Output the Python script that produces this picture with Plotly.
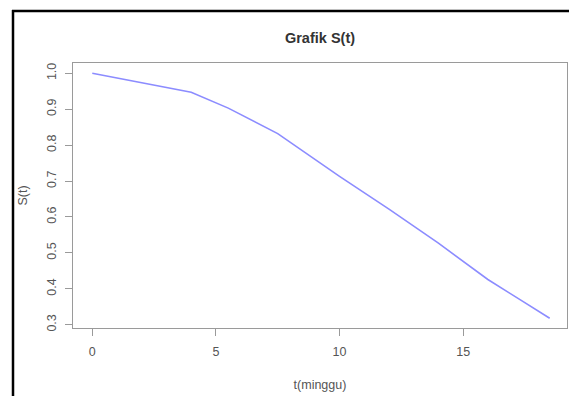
import plotly.graph_objects as go

t_minggu = [0, 4, 5.5, 7.5, 10, 12, 14, 16, 17.3, 18.5]
s_t = [1.0, 0.947, 0.903, 0.832, 0.713, 0.622, 0.527, 0.426, 0.37, 0.318]
x_ticks = [0, 5, 10, 15]
y_ticks = [0.3, 0.4, 0.5, 0.6, 0.7, 0.8, 0.9, 1.0]

W, H = 569, 396
L, R, T, B = 73, 2, 63, 68
pw, ph = W - L - R, H - T - B

def px(x):
    return (x - L) / pw

def py(y):
    return (H - B - y) / ph

FONT = "Liberation Sans, Arial"
fig = go.Figure()
fig.add_trace(go.Scatter(x=t_minggu, y=s_t, mode="lines",
                         line=dict(color="#8c8cff", width=1.6),
                         showlegend=False))

axis_common = dict(showgrid=False, zeroline=False, showline=True, mirror=True,
                   linecolor="#9a9a9a", linewidth=1.3, ticks="outside",
                   ticklen=7, tickcolor="#9a9a9a", tickwidth=1,
                   tickfont=dict(family=FONT, size=12.5, color="#555555"))

fig.update_layout(
    width=W, height=H,
    margin=dict(l=L, r=R, t=T, b=B),
    paper_bgcolor="white", plot_bgcolor="white",
    title=dict(text="<b>Grafik S(t)</b>", x=320 / W, xanchor="center",
               y=1 - 38 / H, yanchor="middle",
               font=dict(family=FONT, size=14.5, color="#333333")),
    xaxis=dict(range=[-0.78, 19.2], tickvals=x_ticks, ticktext=[str(v) for v in x_ticks],
               ticklabelstandoff=5,
               title=dict(text="t(minggu)", standoff=22,
                          font=dict(family=FONT, size=12.5, color="#555555")),
               **axis_common),
    yaxis=dict(range=[0.291, 1.0286], tickvals=y_ticks, ticktext=[f"{v:.1f}" for v in y_ticks],
               tickangle=-90, ticklabelstandoff=4,
               title=dict(text="S(t)", standoff=14,
                          font=dict(family=FONT, size=12.5, color="#555555")),
               **axis_common),
)

# outer black frame (left and top edges)
fig.add_shape(type="line", xref="paper", yref="paper",
              x0=px(13), x1=px(13), y0=py(10), y1=py(400),
              line=dict(color="black", width=2.5))
fig.add_shape(type="line", xref="paper", yref="paper",
              x0=px(12), x1=px(575), y0=py(11), y1=py(11),
              line=dict(color="black", width=2.5))

fig.write_html("out.html", config={"displayModeBar": False},
               post_script="document.body.style.margin='0';document.body.style.overflow='hidden';")
